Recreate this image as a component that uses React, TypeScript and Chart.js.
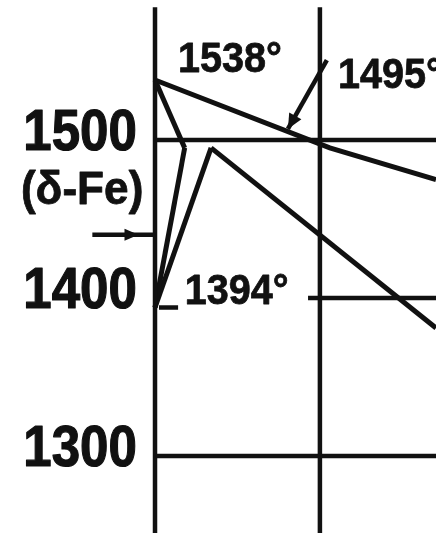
import React, { useEffect, useRef } from "react";
import { Chart, registerables } from "chart.js";

Chart.register(...registerables);

// Axis windows: carbon content (wt% C) and temperature (°C)
const X_MIN = -0.47;
const X_MAX = 0.852;
const Y_MIN = 1251.3;
const Y_MAX = 1588.6;

// Temperature grid (tick labels) and carbon grid
const TICK_VALUES = [1500, 1400, 1300];
const TICK_STARTS = [0, 0.464, 0];
const CARBON_GRID = [0, 0.5];
const CARBON_GRID_TOP = 1584;

// Phase boundaries
const LIQUIDUS_C = [0, 0.53, X_MAX];
const LIQUIDUS_T = [1538, 1495, 1475];
const DELTA_SOLIDUS_C = [0, 0.09];
const DELTA_SOLIDUS_T = [1538, 1495];
const DELTA_SOLVUS_C = [0.09, 0];
const DELTA_SOLVUS_T = [1495, 1394];
const GAMMA_BOUNDARY_C = [0.17, 0];
const GAMMA_BOUNDARY_T = [1495, 1394];
const GAMMA_SOLIDUS_C = [0.17, X_MAX];
const GAMMA_SOLIDUS_T = [1495, 1381];

// Transformation tick at 1394 °C
const TICK_1394_C = [0.012, 0.07];
const TICK_1394_T = [1394, 1394];

// Notes and pointers
const NOTE_TEXT = ["1538°", "1495°", "1394°"];
const NOTE_C = [0.07, 0.555, 0.09];
const NOTE_T = [1543, 1533, 1396];
const PHASE_TEXT = "(δ-Fe)";
const PHASE_C = -0.221;
const PHASE_T = 1467.7;
const POINTER_1495_C = [0.521, 0.403];
const POINTER_1495_T = [1550.6, 1507];
const POINTER_DELTA_C = [-0.19, 0];
const POINTER_DELTA_T = 1440;
const POINTER_DELTA_HEAD = -0.05;
const TICK_LABEL_C = -0.055;

const INK = "#111";
const FONT_FAMILY = '"Liberation Sans", Arial, sans-serif';

const pairs = (xs: number[], ys: number[]) => xs.map((c, i) => ({ x: c, y: ys[i] }));

function drawText(
  ctx: CanvasRenderingContext2D,
  text: string,
  px: number,
  py: number,
  align: CanvasTextAlign,
  baseline: CanvasTextBaseline,
  font: string,
  sx: number,
  weight: number
) {
  ctx.save();
  ctx.translate(px, py);
  ctx.scale(sx, 1);
  ctx.font = font;
  ctx.textAlign = align;
  ctx.textBaseline = baseline;
  ctx.lineJoin = "round";
  ctx.lineWidth = weight;
  ctx.fillText(text, 0, 0);
  ctx.strokeText(text, 0, 0);
  ctx.restore();
}

function arrowHead(
  ctx: CanvasRenderingContext2D,
  tipX: number,
  tipY: number,
  fromX: number,
  fromY: number,
  len: number,
  half: number
) {
  const a = Math.atan2(tipY - fromY, tipX - fromX);
  ctx.save();
  ctx.translate(tipX, tipY);
  ctx.rotate(a);
  ctx.beginPath();
  ctx.moveTo(0, 0);
  ctx.lineTo(-len, -half);
  ctx.lineTo(-len, half);
  ctx.closePath();
  ctx.fill();
  ctx.restore();
}

const annotations = {
  id: "annotations",
  afterDatasetsDraw(chart: any) {
    const { ctx } = chart;
    const xs = chart.scales.x;
    const ys = chart.scales.y;
    const px = (v: number) => xs.getPixelForValue(v);
    const py = (v: number) => ys.getPixelForValue(v);
    ctx.save();
    ctx.fillStyle = INK;
    ctx.strokeStyle = INK;

    // temperature tick labels, set just below-left of each grid line
    TICK_VALUES.forEach((v) => {
      drawText(ctx, String(v), px(TICK_LABEL_C), py(v) + 10, "right", "alphabetic", `bold 58px ${FONT_FAMILY}`, 0.88, 1.2);
    });

    // temperature notes
    NOTE_TEXT.forEach((t, i) => {
      drawText(ctx, t, px(NOTE_C[i]), py(NOTE_T[i]), "left", "alphabetic", `bold 43px ${FONT_FAMILY}`, 0.92, 0.8);
    });

    // phase name
    drawText(ctx, PHASE_TEXT, px(PHASE_C), py(PHASE_T), "center", "middle", `bold 46px ${FONT_FAMILY}`, 0.96, 0.8);

    // pointer to the 1495° peritectic
    ctx.lineWidth = 4.5;
    ctx.lineCap = "butt";
    const ax0 = px(POINTER_1495_C[0]);
    const ay0 = py(POINTER_1495_T[0]);
    const ax1 = px(POINTER_1495_C[1]);
    const ay1 = py(POINTER_1495_T[1]);
    ctx.beginPath();
    ctx.moveTo(ax0, ay0);
    ctx.lineTo(ax1, ay1);
    ctx.stroke();
    arrowHead(ctx, ax1, ay1, ax0, ay0, 15, 7);

    // pointer towards the δ-Fe axis
    const dy = py(POINTER_DELTA_T);
    ctx.beginPath();
    ctx.moveTo(px(POINTER_DELTA_C[0]), dy);
    ctx.lineTo(px(POINTER_DELTA_C[1]), dy);
    ctx.stroke();
    arrowHead(ctx, px(POINTER_DELTA_HEAD), dy, px(POINTER_DELTA_C[0]), dy, 14, 6);

    ctx.restore();
  },
};

function line(data: { x: number; y: number }[], width: number) {
  return {
    data,
    showLine: true,
    borderColor: INK,
    backgroundColor: INK,
    borderWidth: width,
    pointRadius: 0,
    fill: false,
    tension: 0,
  };
}

export default function App() {
  const canvasRef = useRef<HTMLCanvasElement | null>(null);

  useEffect(() => {
    const canvas = canvasRef.current;
    if (!canvas) return;

    const datasets: any[] = [];
    // grid
    TICK_VALUES.forEach((t, i) => {
      datasets.push(line(pairs([TICK_STARTS[i], X_MAX], [t, t]), 4.5));
    });
    CARBON_GRID.forEach((c) => {
      datasets.push(line(pairs([c, c], [Y_MIN, CARBON_GRID_TOP]), 4.5));
    });
    // phase boundaries
    datasets.push(line(pairs(LIQUIDUS_C, LIQUIDUS_T), 5));
    datasets.push(line(pairs(DELTA_SOLIDUS_C, DELTA_SOLIDUS_T), 5));
    datasets.push(line(pairs(DELTA_SOLVUS_C, DELTA_SOLVUS_T), 5));
    datasets.push(line(pairs(GAMMA_BOUNDARY_C, GAMMA_BOUNDARY_T), 5));
    datasets.push(line(pairs(GAMMA_SOLIDUS_C, GAMMA_SOLIDUS_T), 5));
    datasets.push(line(pairs(TICK_1394_C, TICK_1394_T), 4.5));

    const chart = new Chart(canvas, {
      type: "scatter",
      data: { datasets },
      options: {
        animation: false,
        responsive: false,
        devicePixelRatio: 1,
        layout: { padding: 0 },
        plugins: {
          legend: { display: false },
          tooltip: { enabled: false },
        },
        scales: {
          x: { type: "linear", min: X_MIN, max: X_MAX, display: false },
          y: { type: "linear", min: Y_MIN, max: Y_MAX, display: false },
        },
      },
      plugins: [annotations],
    });

    return () => chart.destroy();
  }, []);

  return (
    <div style={{ position: "fixed", left: 0, top: 0, width: 436, height: 533, background: "#fff" }}>
      <canvas ref={canvasRef} width={436} height={533} style={{ display: "block" }} />
    </div>
  );
}
